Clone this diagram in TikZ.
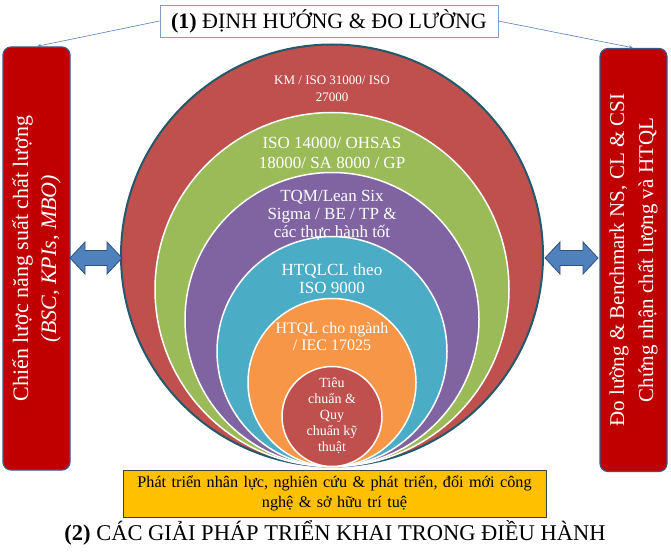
\documentclass[tikz,border=0pt]{standalone}
\usepackage{fontspec}
\setmainfont{Liberation Serif}
\usetikzlibrary{positioning}
\definecolor{boxred}{HTML}{C00000}
\definecolor{boxline}{HTML}{3A5A86}
\definecolor{ringred}{HTML}{C0504D}
\definecolor{ringgreen}{HTML}{9BBB59}
\definecolor{ringpurple}{HTML}{8064A2}
\definecolor{ringteal}{HTML}{4BACC6}
\definecolor{ringorange}{HTML}{F79646}
\definecolor{ringedge}{HTML}{23596A}
\definecolor{arrowblue}{HTML}{4F81BD}
\definecolor{arrowline}{HTML}{2F4F7F}
\definecolor{titleline}{HTML}{7F9FC8}
\definecolor{goldbox}{HTML}{FFC000}
\newcommand{\fs}[2]{\fontsize{#1}{#2}\selectfont}
\begin{document}
\begin{tikzpicture}[x=1pt,y=1pt,>=stealth,
    sidebox/.style={draw=boxline,line width=1.2pt,fill=boxred,rounded corners=8pt,
        text=white,align=center,rotate=90,minimum width=423pt,minimum height=67pt,inner sep=0pt},
    ringtext/.style={text=white,align=center,inner sep=0pt},
    blockarrow/.style={fill=arrowblue,draw=arrowline,line width=0.8pt,line join=miter},
    titlelink/.style={->,draw=arrowblue,line width=0.6pt,shorten >=1pt}]
    \useasboundingbox (0,0) rectangle (671,-556);
    % rings
    \filldraw[fill=ringred,draw=ringedge,line width=2pt] (332,-255.5) circle[radius=211];
    \foreach \r/\c in {177/ringgreen,147/ringpurple,115/ringteal,84/ringorange,50/ringred}
        \filldraw[fill=\c,draw=white,line width=1.5pt] (332,-466.5+\r) circle[radius=\r];
    \node[ringtext,font=\fs{13}{17}] (km) at (332,-88.5) {KM / ISO 31000/ ISO\\27000};
    \node[ringtext,font=\fs{17}{20}] (env) at (332,-153) {ISO 14000/ OHSAS\\18000/ SA 8000 / GP};
    \node[ringtext,font=\fs{17}{18}] (tqm) at (332,-215) {TQM/Lean Six\\Sigma  / BE / TP \&\\các thực hành tốt};
    \node[ringtext,font=\fs{17}{17.5}] (qms) at (332,-278.5) {HTQLCL theo\\ISO 9000};
    \node[ringtext,font=\fs{16}{17}] (sector) at (332,-336.5) {HTQL cho ngành\\/ IEC 17025};
    \node[ringtext,font=\fs{14}{16}] (std) at (332,-416) {Tiêu\\chuẩn \&\\Quy\\chuẩn kỹ\\thuật};
    % side boxes
    \node[sidebox,font=\fs{22}{28}] (lbox) at (36.5,-258.5)
        {Chiến lược năng suất chất lượng\\\textit{(BSC, KPIs,  MBO)}};
    \node[sidebox,font=\fs{21}{29}] (rbox) at (633.5,-260)
        {Đo lường \& Benchmark NS, CL \& CSI\\Chứng nhận chất lượng và HTQL};
    % block arrows
    \filldraw[blockarrow] (70,-258) -- (85,-242) -- (85,-250.5) -- (107,-250.5) -- (107,-242)
        -- (122,-258) -- (107,-274) -- (107,-265.5) -- (85,-265.5) -- (85,-274) -- cycle;
    \filldraw[blockarrow] (545,-258) -- (560,-242) -- (560,-250.5) -- (583,-250.5) -- (583,-242)
        -- (598,-258) -- (583,-274) -- (583,-265.5) -- (560,-265.5) -- (560,-274) -- cycle;
    % title
    \node[draw=titleline,fill=white,line width=0.8pt,minimum width=338pt,minimum height=32pt,
        inner sep=0pt,font=\fs{22}{24}] (title) at (329,-21)
        {\textbf{(1)} ĐỊNH HƯỚNG \& ĐO LƯỜNG};
    \draw[titlelink] (title.west) -- (lbox.east);
    \draw[titlelink] (title.east) -- (rbox.east);
    % bottom
    \node[draw=black!75,fill=goldbox,line width=0.8pt,minimum width=423pt,minimum height=47pt,
        text width=415pt,align=center,inner sep=0pt,font=\fs{16.2}{20}] (hr) at (334.5,-493.5)
        {Phát triển nhân lực, nghiên cứu \& phát triển, đổi mới công\\nghệ \& sở hữu trí tuệ};
    \node[font=\fs{22.5}{24},inner sep=0pt] (impl) at (335,-533)
        {\textbf{(2)} CÁC GIẢI PHÁP TRIỂN KHAI TRONG ĐIỀU HÀNH};
\end{tikzpicture}
\end{document}
